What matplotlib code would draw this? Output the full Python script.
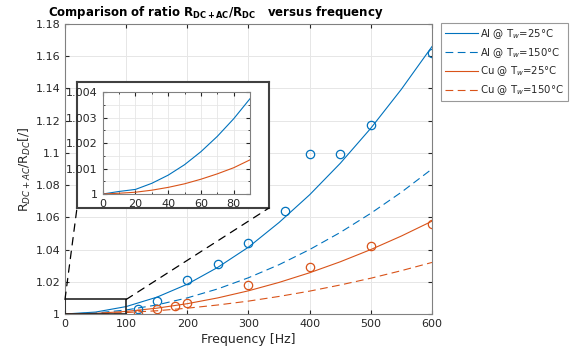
import matplotlib.pyplot as plt
from matplotlib.patches import Rectangle, ConnectionPatch
import numpy as np

# curve values (ratio - 1)
freq = [0, 50, 100, 150, 200, 250, 300, 350, 400, 450, 500, 550, 600]
al_25 = [0, 0.0012, 0.0046, 0.0104, 0.0185, 0.0290, 0.0415, 0.0568, 0.0740, 0.0935, 0.1153, 0.1395, 0.1660]
al_150 = [0, 0.0006, 0.0025, 0.0056, 0.0100, 0.0156, 0.0225, 0.0306, 0.0400, 0.0506, 0.0625, 0.0756, 0.0900]
cu_25 = [0, 0.0004, 0.0016, 0.0036, 0.0064, 0.0100, 0.0144, 0.0196, 0.0256, 0.0324, 0.0400, 0.0484, 0.0576]
cu_150 = [0, 0.0002, 0.0009, 0.0020, 0.0036, 0.0056, 0.0080, 0.0109, 0.0142, 0.0180, 0.0222, 0.0269, 0.0320]

# measured points
al_meas_f = [120, 150, 200, 250, 300, 360, 400, 450, 500, 600]
al_meas = [1.003, 1.0083, 1.021, 1.031, 1.044, 1.064, 1.099, 1.099, 1.117, 1.162]
cu_meas_f = [120, 150, 180, 200, 300, 400, 500, 600]
cu_meas = [1.000, 1.003, 1.005, 1.007, 1.018, 1.029, 1.042, 1.056]

# zoomed low frequency range
inset_f = [0, 10, 20, 30, 40, 50, 60, 70, 80, 90]
inset_al = [0, 0.00010, 0.00018, 0.00042, 0.00074, 0.00115, 0.00166, 0.00226, 0.00295, 0.00374]
inset_cu = [0, 0.00003, 0.00007, 0.00015, 0.00026, 0.00040, 0.00058, 0.00079, 0.00103, 0.00134]

blue = '#0072BD'
orange = '#D95319'
txt = '#262626'

plt.rcParams['font.family'] = 'DejaVu Sans'

fig = plt.figure(figsize=(5.74, 3.6), dpi=100)
ax = fig.add_axes([0.1132, 0.1278, 0.6394, 0.8056])

ax.plot(freq, 1 + np.array(al_25), color=blue, lw=0.8, label=r'Al @ T$_w$=25°C')
ax.plot(freq, 1 + np.array(al_150), color=blue, lw=0.8, ls=(0, (7, 4)), label=r'Al @ T$_w$=150°C')
ax.plot(freq, 1 + np.array(cu_25), color=orange, lw=0.8, label=r'Cu @ T$_w$=25°C')
ax.plot(freq, 1 + np.array(cu_150), color=orange, lw=0.8, ls=(0, (7, 4)), label=r'Cu @ T$_w$=150°C')
ax.plot(al_meas_f, al_meas, 'o', mfc='none', mec=blue, ms=6, mew=0.9)
ax.plot(cu_meas_f, cu_meas, 'o', mfc='none', mec=orange, ms=6, mew=0.9)

ax.set_xlim(0, 600)
ax.set_ylim(1, 1.18)
ax.set_xticks(range(0, 601, 100))
ax.set_yticks(np.arange(1, 1.181, 0.02))
ax.set_yticklabels(['1', '1.02', '1.04', '1.06', '1.08', '1.1', '1.12', '1.14', '1.16', '1.18'])
ax.grid(True, color='#e6e6e6', lw=0.7)
ax.set_axisbelow(True)
ax.tick_params(direction='in', top=True, right=True, labelsize=8, colors=txt, length=3)
for s in ax.spines.values():
    s.set_color('#808080')
ax.set_xlabel('Frequency [Hz]', fontsize=9, color=txt, labelpad=3)
ax.set_ylabel(r'R$_{DC+AC}$/R$_{DC}$[/]', fontsize=9, color=txt, labelpad=2)
ax.set_title(r'Comparison of ratio R$_{\mathbf{DC+AC}}$/R$_{\mathbf{DC}}$   versus frequency',
             fontsize=8.5, fontweight='bold', pad=6, x=0.41)

leg = ax.legend(loc='upper left', bbox_to_anchor=(1.024, 1.004), fontsize=7.3,
                handlelength=3.3, frameon=True, fancybox=False, borderpad=0.4,
                labelspacing=0.5, handletextpad=0.2, borderaxespad=0)
leg.get_frame().set_edgecolor('#808080')
leg.get_frame().set_linewidth(0.8)
for t in leg.get_texts():
    t.set_color(txt)

# zoom box on main axes
ax.add_patch(Rectangle((0, 1), 100, 0.009, fill=False, edgecolor='#262626', lw=1.2, zorder=5))

# frame around inset
frame = fig.add_axes([0.1341, 0.4222, 0.3345, 0.35])
frame.set_xticks([])
frame.set_yticks([])
frame.set_facecolor('white')
for s in frame.spines.values():
    s.set_color('#404040')
    s.set_linewidth(1.5)

for xb, fx in [(0, 0.1341), (100, 0.4686)]:
    con = ConnectionPatch(xyA=(xb, 1.009), coordsA=ax.transData,
                          xyB=(fx, 0.4222), coordsB=fig.transFigure,
                          color='black', lw=0.9, ls=(0, (6, 5)))
    fig.add_artist(con)

ins = fig.add_axes([0.179, 0.4611, 0.2566, 0.2833])
ins.plot(inset_f, 1 + np.array(inset_al), color=blue, lw=0.8)
ins.plot(inset_f, 1 + np.array(inset_cu), color=orange, lw=0.8)
ins.set_xlim(0, 90)
ins.set_ylim(1, 1.004)
ins.set_xticks(range(0, 81, 20))
ins.set_xticks(range(0, 91, 10), minor=True)
ins.set_yticks([1, 1.001, 1.002, 1.003, 1.004])
ins.set_yticklabels(['1', '1.001', '1.002', '1.003', '1.004'])
ins.set_yticks(np.arange(1, 1.0041, 0.0005), minor=True)
ins.grid(True, which='both', color='#e6e6e6', lw=0.6)
ins.set_axisbelow(True)
ins.tick_params(which='both', direction='in', top=True, right=True, labelsize=8, colors=txt)
ins.tick_params(which='major', length=3)
ins.tick_params(which='minor', length=1.5)
for s in ins.spines.values():
    s.set_color('#808080')

fig.savefig('out.png', dpi=100)
